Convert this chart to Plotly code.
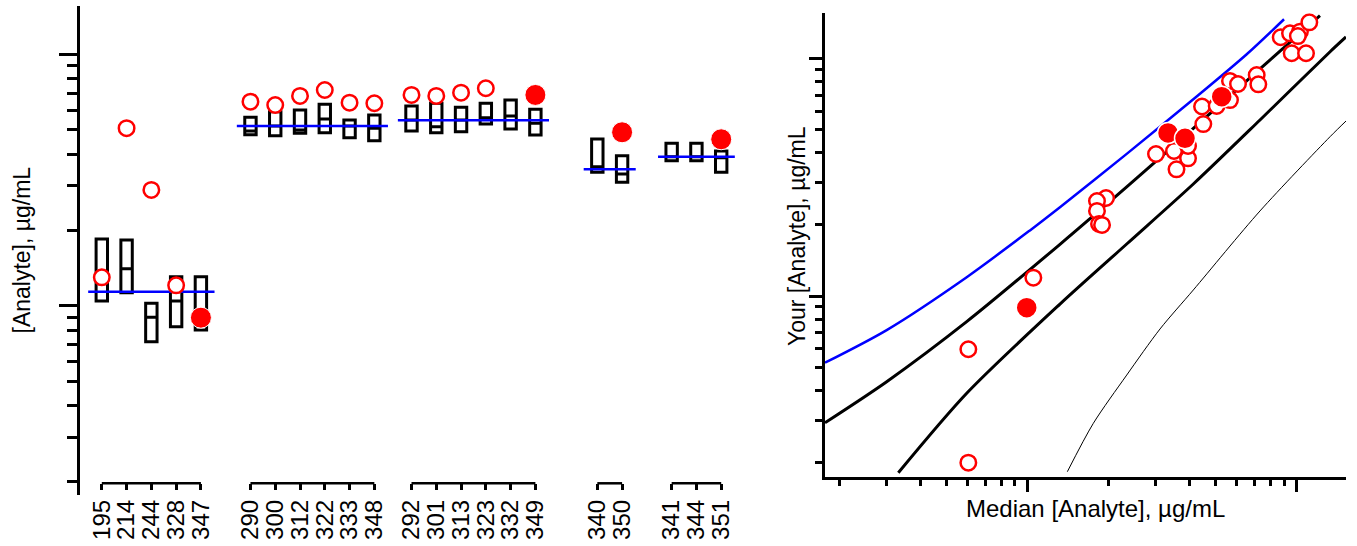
import plotly.graph_objects as go

W, H = 1357, 546

# ---- left panel: lab codes by group, box stats (µg/mL)
groups = [
    ["195", "214", "244", "328", "347"],
    ["290", "300", "312", "322", "333", "348"],
    ["292", "301", "313", "323", "332", "349"],
    ["340", "350"],
    ["341", "344", "351"],
]
group_start = [1, 7, 13.5, 21, 24]
group_median = [1.137, 5.186, 5.465, 3.488, 3.914]

box_q3 = [1.842, 1.825, 1.022, 1.304, 1.304,
          5.616, 5.91, 6.003, 6.327, 5.48, 5.735,
          6.229, 6.385, 6.156, 6.385, 6.58, 6.043,
          4.604, 3.951,
          4.426, 4.426, 4.125]
box_med = [1.297, 1.404, 0.899, 1.044, 0.90,
           4.954, 5.186, 5.0, 5.529, 5.186, 5.078,
           5.48, 5.153, 5.48, 5.595, 5.684, 5.316,
           3.572, 3.341,
           3.914, 3.914, 3.878]
box_q1 = [1.044, 1.126, 0.719, 0.825, 0.800,
          4.788, 4.745, 4.851, 4.877, 4.659, 4.532,
          4.954, 4.877, 4.922, 5.281, 5.046, 4.775,
          3.394, 3.097,
          3.774, 3.774, 3.394]

# your results (open) and latest result (filled)
your_open = [1.297, 5.08, 2.888, 1.205, None,
             6.48, 6.284, 6.826, 7.21, 6.42, 6.385,
             6.89, 6.826, 7.036, 7.325, None, None,
             None, None,
             None, None, None]
your_latest = [None, None, None, None, 0.896,
               None, None, None, None, None, None,
               None, None, None, None, None, 6.89,
               None, 4.895,
               None, None, 4.591]

# ---- right panel: your value vs median
med_open = [0.604, 0.604, 1.053, 1.960, 1.814, 1.814, 1.846, 1.894,
            3.004, 3.579, 3.950, 3.504, 3.95, 4.501, 4.452, 5.047,
            5.654, 5.654, 6.055, 7.104, 7.203, 8.722, 9.443, 10.28,
            11.14, 9.58, 10.83, 10.1]
you_open = [0.199, 0.597, 1.194, 2.584, 2.510, 2.279, 2.009, 1.990,
            3.957, 3.412, 3.796, 4.074, 4.276, 5.29, 6.27, 6.30,
            6.675, 8.027, 7.797, 8.505, 7.774, 12.26, 12.74, 12.94,
            14.17, 10.50, 10.50, 12.4]
med_filled = [0.995, 3.329, 3.849, 5.268]
you_filled = [0.893, 4.851, 4.607, 6.895]

blue_x = [0.1774, 0.3006, 0.5957, 1.023, 1.322, 2.339, 4.133, 6.523, 8.974]
blue_y = [0.524, 0.719, 1.2, 1.888, 2.362, 3.961, 6.722, 10.4, 14.6]
upper_x = [0.1774, 0.3006, 0.5957, 1.322, 2.339, 4.133, 7.307, 12.2]
upper_y = [0.293, 0.436, 0.78, 1.650, 2.877, 5.077, 9.016, 15.12]
lower_x = [0.332, 0.5957, 1.322, 2.339, 4.133, 7.307, 13.3, 15.24]
lower_y = [0.1805, 0.3897, 0.925, 1.655, 2.959, 5.501, 10.66, 12.3]
thin_x = [1.408, 1.758, 2.339, 3.109, 4.133, 7.307, 13.3, 15.38]
thin_y = [0.1823, 0.2913, 0.465, 0.7265, 1.06, 2.279, 4.68, 5.5]

minor_vals = [0.2, 0.3, 0.4, 0.5, 0.6, 0.7, 0.8, 0.9, 2, 3, 4, 5, 6, 7, 8, 9]
FONT = "Liberation Sans, Arial, sans-serif"
RED, BLUE = "#ff0000", "#0000ff"

positions, labels = [], []
for start, g in zip(group_start, groups):
    for i, lab in enumerate(g):
        positions.append(start + i)
        labels.append(lab)

fig = go.Figure()

fig.add_trace(go.Box(x=positions, q1=box_q1, median=box_med, q3=box_q3,
                     lowerfence=box_q1, upperfence=box_q3, width=0.46,
                     whiskerwidth=0, boxpoints=False,
                     line=dict(color="black", width=3),
                     fillcolor="rgba(0,0,0,0)", xaxis="x", yaxis="y"))

for start, g, m in zip(group_start, groups, group_median):
    fig.add_trace(go.Scatter(x=[start - 0.55, start + len(g) - 1 + 0.55], y=[m, m],
                             mode="lines", line=dict(color=BLUE, width=2.5),
                             xaxis="x", yaxis="y"))

fig.add_trace(go.Scatter(x=positions, y=your_open, mode="markers",
                         marker=dict(size=15.5, color="white",
                                     line=dict(color=RED, width=2.5)),
                         xaxis="x", yaxis="y"))
fig.add_trace(go.Scatter(x=positions, y=your_latest, mode="markers",
                         marker=dict(size=21, color=RED,
                                     line=dict(color="white", width=1)),
                         xaxis="x", yaxis="y"))

# right panel curves
for cx, cy, col, lw in [(blue_x, blue_y, BLUE, 2.5), (upper_x, upper_y, "black", 3),
                        (lower_x, lower_y, "black", 3), (thin_x, thin_y, "black", 1)]:
    fig.add_trace(go.Scatter(x=cx, y=cy, mode="lines",
                             line=dict(color=col, width=lw, shape="spline", smoothing=0.8),
                             xaxis="x2", yaxis="y2"))
fig.add_trace(go.Scatter(x=med_open, y=you_open, mode="markers",
                         marker=dict(size=15.5, color="white",
                                     line=dict(color=RED, width=2.5)),
                         xaxis="x2", yaxis="y2"))
fig.add_trace(go.Scatter(x=med_filled, y=you_filled, mode="markers",
                         marker=dict(size=21, color=RED,
                                     line=dict(color="white", width=1.5)),
                         xaxis="x2", yaxis="y2"))

axis_pos = (H - 483.3) / H

# group brackets under the categories
for start, g in zip(group_start, groups):
    fig.add_shape(type="line", xref="x", yref="paper",
                  x0=start, x1=start + len(g) - 1, y0=axis_pos, y1=axis_pos,
                  line=dict(color="black", width=2.5))

ax_common = dict(showgrid=False, zeroline=False, linecolor="black", color="black")

fig.update_layout(
    width=W, height=H, margin=dict(l=0, r=0, t=0, b=0),
    paper_bgcolor="white", plot_bgcolor="white", showlegend=False,
    font=dict(family=FONT, color="black"),
    xaxis=dict(domain=[80 / W, 743 / W], range=[0.12, 26.88], anchor="free",
               position=axis_pos, showline=False, tickmode="array",
               tickvals=positions, ticktext=labels, tickangle=-90,
               ticks="outside", ticklen=6, tickwidth=2.5, tickcolor="black",
               tickfont=dict(size=24), **ax_common),
    yaxis=dict(domain=[(H - 495) / H, (H - 6) / H], type="log", range=[-0.753, 1.192],
               anchor="x", showline=True, linewidth=3, ticks="outside",
               tickvals=[1, 10], ticklen=18, tickwidth=3, tickcolor="black",
               showticklabels=False,
               minor=dict(tickvals=minor_vals, ticks="outside", ticklen=10,
                          tickwidth=3, tickcolor="black"),
               **ax_common),
    xaxis2=dict(domain=[825 / W, 1346 / W], type="log", range=[-0.751, 1.183],
                anchor="y2", showline=True, linewidth=3, ticks="outside",
                tickvals=[1, 10], ticklen=12, tickwidth=3, tickcolor="black",
                showticklabels=False,
                minor=dict(tickvals=minor_vals, ticks="outside", ticklen=6,
                           tickwidth=3, tickcolor="black"),
                **ax_common),
    yaxis2=dict(domain=[(H - 476.7) / H, (H - 13.3) / H], type="log", range=[-0.7602, 1.1893],
                anchor="x2", showline=True, linewidth=3, ticks="outside",
                tickvals=[1, 10], ticklen=13, tickwidth=3, tickcolor="black",
                showticklabels=False,
                minor=dict(tickvals=minor_vals, ticks="outside", ticklen=7,
                           tickwidth=3, tickcolor="black"),
                **ax_common),
    annotations=[
        dict(text="[Analyte], µg/mL", xref="paper", yref="paper",
             x=21 / W, y=(H - 250.5) / H, textangle=-90, showarrow=False,
             xanchor="center", yanchor="middle", font=dict(size=23)),
        dict(text="Your [Analyte], µg/mL", xref="paper", yref="paper",
             x=797 / W, y=(H - 236) / H, textangle=-90, showarrow=False,
             xanchor="center", yanchor="middle", font=dict(size=23)),
        dict(text="Median [Analyte], µg/mL", xref="paper", yref="paper",
             x=1095 / W, y=(H - 508) / H, showarrow=False,
             xanchor="center", yanchor="middle", font=dict(size=24)),
    ],
)

# drop the default 8px page margin so the figure sits at the window origin
fig.write_html("out.html", config={"displayModeBar": False},
               post_script="document.body.style.margin='0px';")
